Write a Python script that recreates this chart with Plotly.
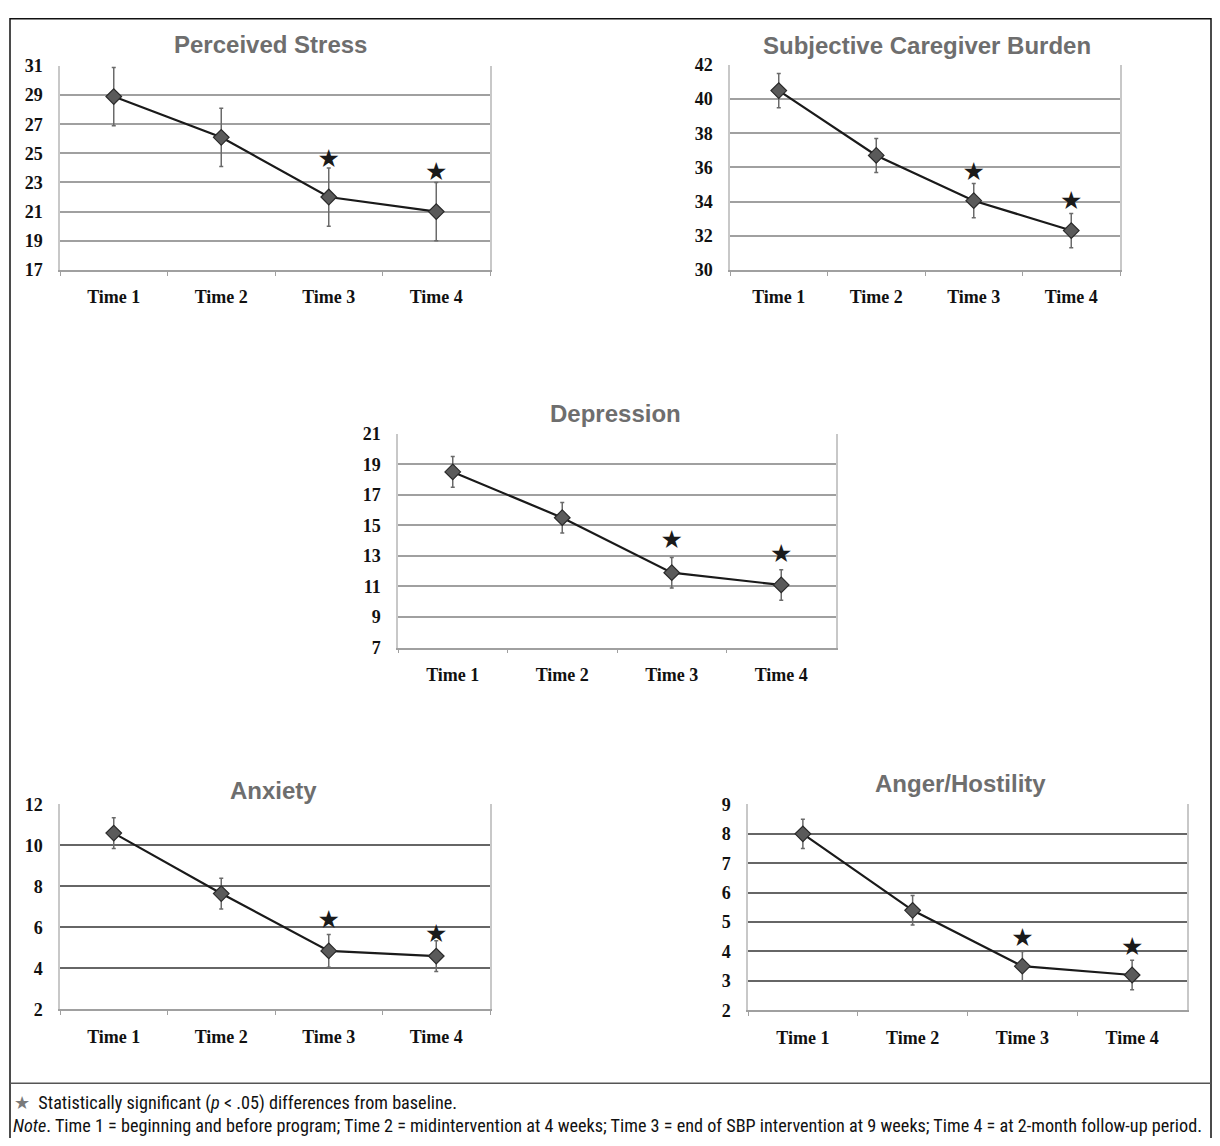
import plotly.graph_objects as go

# figure size kept slightly smaller than the window (page body margin)
W, H = 1204, 1130
OFF_X = 8
OFF_Y, SCALE_Y = 17, 0.983  # measured page placement of the figure

# ---------------- data ----------------
times = ["Time 1", "Time 2", "Time 3", "Time 4"]

titles = ["Perceived Stress", "Subjective Caregiver Burden", "Depression", "Anxiety", "Anger/Hostility"]

stress_mean = [28.9, 26.1, 22.0, 21.0]
stress_err = [2.0, 2.0, 2.0, 2.0]
stress_star = [None, None, 24.5, 23.6]

burden_mean = [40.5, 36.7, 34.05, 32.3]
burden_err = [1.0, 1.0, 1.0, 1.0]
burden_star = [None, None, 35.6, 33.9]

depression_mean = [18.5, 15.5, 11.9, 11.1]
depression_err = [1.0, 1.0, 1.0, 1.0]
depression_star = [None, None, 13.9, 13.0]

anxiety_mean = [10.6, 7.65, 4.85, 4.6]
anxiety_err = [0.75, 0.75, 0.8, 0.75]
anxiety_star = [None, None, 6.25, 5.6]

anger_mean = [8.0, 5.4, 3.5, 3.2]
anger_err = [0.5, 0.5, 0.5, 0.5]
anger_star = [None, None, 4.4, 4.1]

y_ranges = [(17, 31), (30, 42), (7, 21), (2, 12), (2, 9)]
y_dticks = [2, 2, 2, 2, 1]

means = [stress_mean, burden_mean, depression_mean, anxiety_mean, anger_mean]
errs = [stress_err, burden_err, depression_err, anxiety_err, anger_err]
stars = [stress_star, burden_star, depression_star, anxiety_star, anger_star]

footnote_star = "Statistically significant (<i>p</i> &lt; .05) differences from baseline."
footnote_note = ("<i>Note</i>. Time 1 = beginning and before program; Time 2 = midintervention at 4 weeks; "
                 "Time 3 = end of SBP intervention at 9 weeks; Time 4 = at 2-month follow-up period.")

# ---------------- layout (pixel boxes in page coordinates) ----------------
boxes = [  # left, right, top, bottom
    (60, 490, 65, 269),
    (730, 1120, 64, 269),
    (398, 836, 433, 647),
    (60, 490, 804, 1009),
    (748, 1187, 804, 1010),
]
title_pos = [(270, 44), (927, 45), (615, 413), (273, 790), (960, 783)]
grid_colors = ["#a0a0a0", "#a0a0a0", "#a0a0a0", "#666666", "#666666"]


def px(x):
    return (x - OFF_X) / W


def py(y):
    fy = max((y - OFF_Y) / SCALE_Y, 0.75)
    return 1 - fy / H


fig = go.Figure()
layout = dict(
    width=W, height=H,
    margin=dict(l=0, r=0, t=0, b=0),
    paper_bgcolor="white", plot_bgcolor="white",
    showlegend=False,
)

serif = "Liberation Serif, Times New Roman, serif"
annotations = []
for i in range(5):
    ax = "" if i == 0 else str(i + 1)
    xa, ya = "x" + ax, "y" + ax
    l, r, t, b = boxes[i]
    layout["xaxis" + ax] = dict(
        domain=[px(l), px(r)], anchor=ya, type="category",
        categoryorder="array", categoryarray=times, range=[-0.5, 3.5],
        showgrid=False, showline=True, linecolor="#a0a0a0", linewidth=1.5,
        mirror=False, ticks="outside", ticklen=4, tickcolor="#a0a0a0",
        tickson="boundaries", ticklabelstandoff=10,
        tickfont=dict(family=serif, size=18, color="#111", weight="bold"),
        fixedrange=True,
    )
    layout["yaxis" + ax] = dict(
        domain=[py(b), py(t)], anchor=xa, range=list(y_ranges[i]),
        dtick=y_dticks[i], tick0=y_ranges[i][0],
        showgrid=True, gridcolor=grid_colors[i], gridwidth=1.6,
        showline=True, linecolor="#c8c8c8", linewidth=1.5, mirror=True,
        zeroline=False, ticks="", ticklabelstandoff=12,
        tickfont=dict(family=serif, size=18, color="#111", weight="bold"),
        fixedrange=True,
    )
    fig.add_trace(go.Scatter(
        x=times, y=means[i], xaxis=xa, yaxis=ya, mode="lines+markers",
        line=dict(color="#1a1a1a", width=2.2),
        marker=dict(symbol="diamond", size=12, color="#5a5a5a",
                    line=dict(color="#2a2a2a", width=1.2)),
        error_y=dict(type="data", array=errs[i], visible=True,
                     color="#6a6a6a", thickness=1.5, width=2),
        hoverinfo="skip",
    ))
    sx = [times[k] for k in range(4) if stars[i][k] is not None]
    sy = [stars[i][k] for k in range(4) if stars[i][k] is not None]
    fig.add_trace(go.Scatter(
        x=sx, y=sy, xaxis=xa, yaxis=ya, mode="text", text=["★"] * len(sx),
        textfont=dict(size=25, color="#1a1a1a", family="DejaVu Sans"),
        textposition="middle center", hoverinfo="skip",
    ))
    tx, ty = title_pos[i]
    annotations.append(dict(
        x=px(tx), y=py(ty), xref="paper", yref="paper", xanchor="center", yanchor="middle",
        text=titles[i], showarrow=False,
        font=dict(family="Liberation Sans, Arial, sans-serif", size=24, color="#6e6e6e", weight="bold"),
    ))

narrow = "Liberation Sans Narrow, Arial Narrow, Roboto Condensed, sans-serif"
annotations.append(dict(
    x=px(12), y=py(1103), xref="paper", yref="paper", xanchor="left", yanchor="middle",
    text="<span style='color:#7a7a7a'>★</span>  " + footnote_star, showarrow=False,
    font=dict(family=narrow, size=18.2, color="#111"),
))
annotations.append(dict(
    x=px(11), y=py(1125), xref="paper", yref="paper", xanchor="left", yanchor="middle",
    text=footnote_note, showarrow=False,
    font=dict(family=narrow, size=18.2, color="#111"),
))
layout["annotations"] = annotations

layout["shapes"] = [
    dict(type="rect", xref="paper", yref="paper", x0=px(10), x1=px(1211), y0=py(1160), y1=py(8),
         line=dict(color="#111", width=1.5), fillcolor="rgba(0,0,0,0)", layer="below"),
    dict(type="line", xref="paper", yref="paper", x0=px(10), x1=px(1211), y0=py(1083), y1=py(1083),
         line=dict(color="#555", width=1.5)),
]

fig.update_layout(**layout)
fig.write_html("out.html")
